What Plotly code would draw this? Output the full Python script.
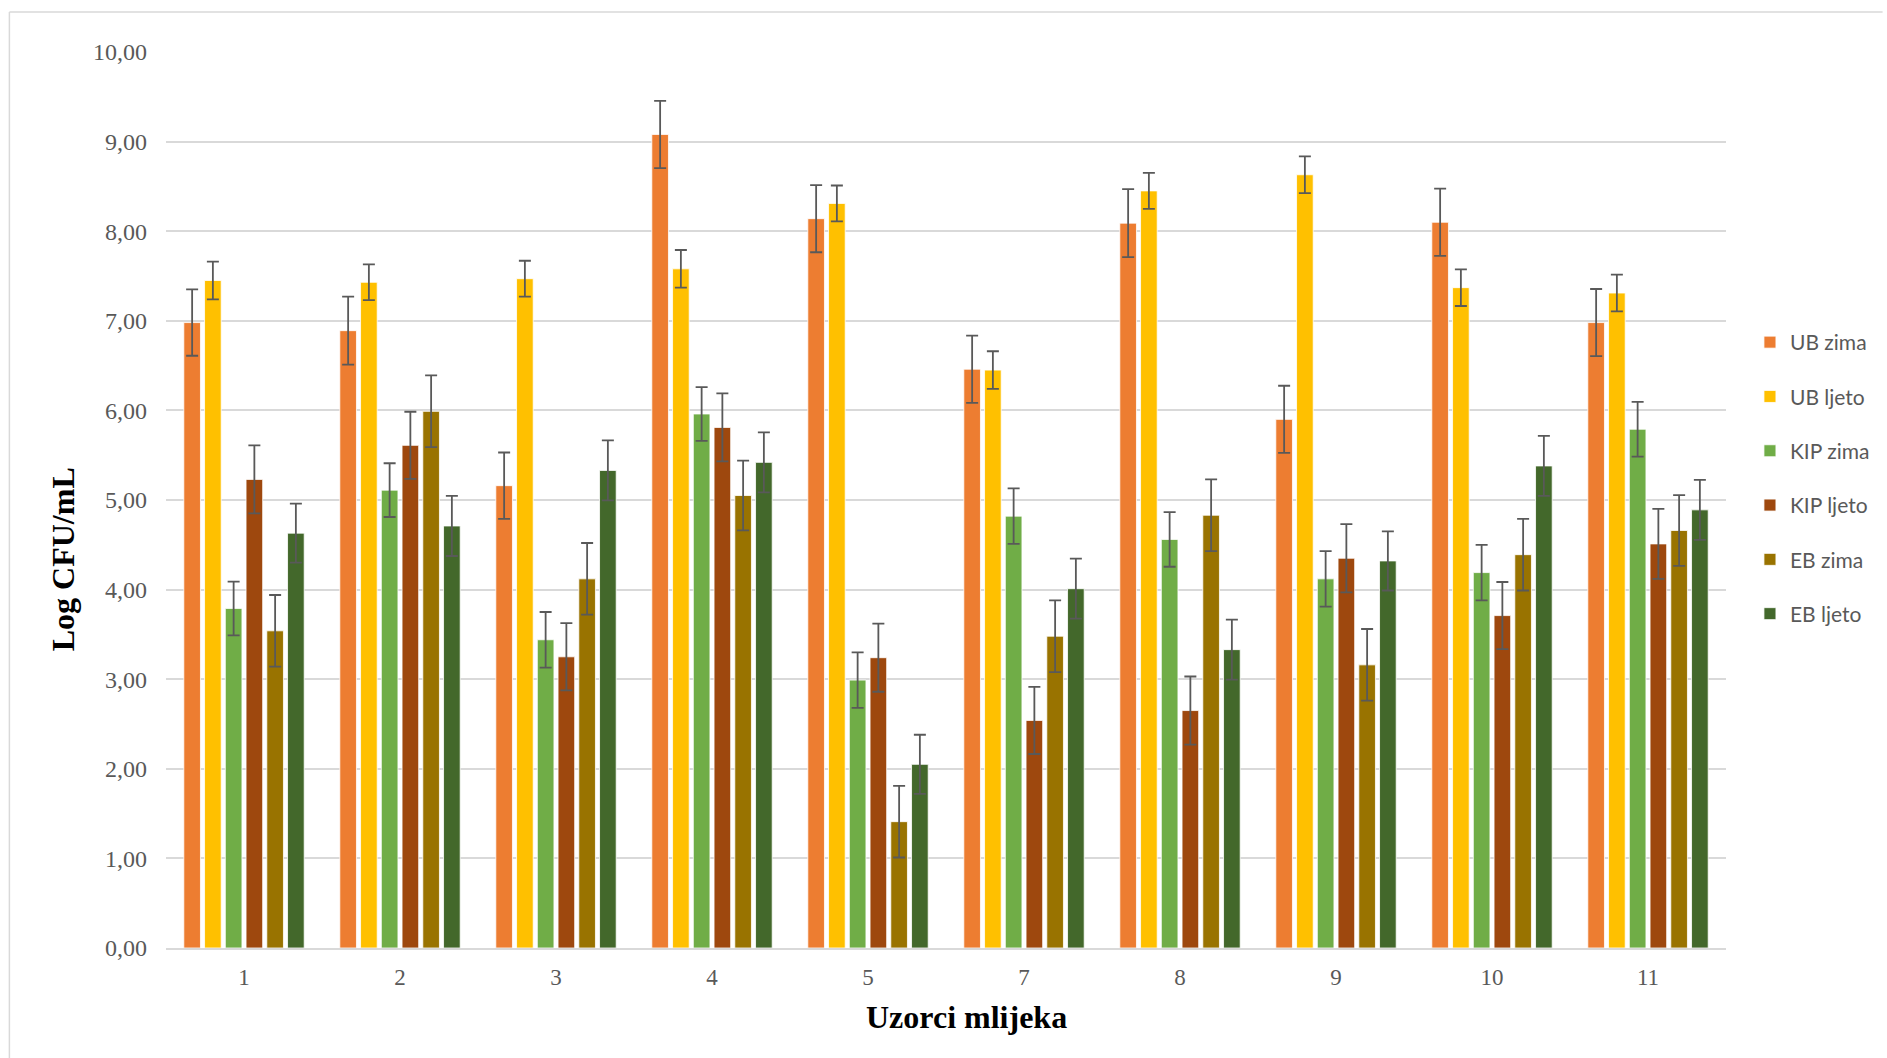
import plotly.graph_objects as go

categories = ["1", "2", "3", "4", "5", "7", "8", "9", "10", "11"]

series_names = ["UB zima", "UB ljeto", "KIP zima", "KIP ljeto", "EB zima", "EB ljeto"]
series_colors = ["#ED7D31", "#FFC000", "#70AD47", "#9E480E", "#997300", "#43682B"]

ub_zima = [6.98, 6.89, 5.16, 9.08, 8.14, 6.46, 8.09, 5.90, 8.10, 6.98]
ub_ljeto = [7.45, 7.43, 7.47, 7.58, 8.31, 6.45, 8.45, 8.63, 7.37, 7.31]
kip_zima = [3.79, 5.11, 3.44, 5.96, 2.99, 4.82, 4.56, 4.12, 4.19, 5.79]
kip_ljeto = [5.23, 5.61, 3.25, 5.81, 3.24, 2.54, 2.65, 4.35, 3.71, 4.51]
eb_zima = [3.54, 5.99, 4.12, 5.05, 1.41, 3.48, 4.83, 3.16, 4.39, 4.66]
eb_ljeto = [4.63, 4.71, 5.33, 5.42, 2.05, 4.01, 3.33, 4.32, 5.38, 4.89]

ub_zima_err = [0.37, 0.38, 0.37, 0.375, 0.375, 0.375, 0.38, 0.375, 0.375, 0.375]
ub_ljeto_err = [0.21, 0.20, 0.20, 0.21, 0.20, 0.21, 0.20, 0.205, 0.205, 0.205]
kip_zima_err = [0.30, 0.30, 0.31, 0.30, 0.31, 0.31, 0.305, 0.31, 0.31, 0.305]
kip_ljeto_err = [0.38, 0.375, 0.375, 0.38, 0.38, 0.375, 0.38, 0.38, 0.375, 0.39]
eb_zima_err = [0.40, 0.40, 0.40, 0.39, 0.40, 0.40, 0.40, 0.40, 0.40, 0.395]
eb_ljeto_err = [0.33, 0.335, 0.335, 0.335, 0.33, 0.335, 0.335, 0.33, 0.335, 0.335]

values = [ub_zima, ub_ljeto, kip_zima, kip_ljeto, eb_zima, eb_ljeto]
errors = [ub_zima_err, ub_ljeto_err, kip_zima_err, kip_ljeto_err, eb_zima_err, eb_ljeto_err]

y_ticks = [0, 1, 2, 3, 4, 5, 6, 7, 8, 9, 10]

fig = go.Figure()
for name, color, vals, errs in zip(series_names, series_colors, values, errors):
    fig.add_trace(go.Bar(
        name=name,
        x=categories,
        y=vals,
        legendgroup=name,
        marker=dict(color=color, line=dict(color="rgba(255,255,255,0.8)", width=1)),
        error_y=dict(type="data", array=errs, visible=True, color="#595959",
                     thickness=1.8, width=6),
    ))

W, H = 1887, 1058
L, R, T, B = 166, 157, 52, 110
pw, ph = W - L - R, H - T - B


def px_x(p):
    return (p - L) / pw


def px_y(p):
    return (H - B - p) / ph


serif = "Liberation Serif, Times New Roman, serif"

fig.update_layout(
    width=W, height=H,
    margin=dict(l=L, r=R, t=T, b=B),
    paper_bgcolor="white", plot_bgcolor="white",
    separators=", ",
    barmode="group",
    bargap=0.202,
    bargroupgap=0.197,
    showlegend=True,
    legend=dict(
        x=px_x(1754), xanchor="left",
        y=px_y(322), yanchor="top",
        traceorder="grouped",
        tracegroupgap=24,
        font=dict(family="Lato, Open Sans, sans-serif", size=21, color="#595959"),
        bgcolor="rgba(0,0,0,0)",
    ),
    xaxis=dict(
        type="category",
        categoryorder="array", categoryarray=categories,
        showgrid=False,
        showline=True, linecolor="#d9d9d9", linewidth=1.5,
        ticks="",
        tickfont=dict(family=serif, size=23, color="#595959"),
        ticklabelstandoff=8,
    ),
    yaxis=dict(
        range=[0, 10],
        tickvals=y_ticks,
        tickformat=".2f",
        showgrid=True, gridcolor="#d9d9d9", gridwidth=1.5,
        zeroline=False,
        showline=False,
        ticks="",
        tickfont=dict(family=serif, size=24, color="#595959"),
        ticklabelstandoff=18,
    ),
    annotations=[
        dict(text="<b>Uzorci mlijeka</b>", xref="paper", yref="paper",
             x=px_x(969), y=px_y(1017), xanchor="center", yanchor="middle",
             showarrow=False,
             font=dict(family=serif, size=32, color="black")),
        dict(text="<b>Log CFU/mL</b>", xref="paper", yref="paper",
             x=px_x(63), y=px_y(559), xanchor="center", yanchor="middle",
             textangle=-90, showarrow=False,
             font=dict(family=serif, size=32, color="black")),
    ],
    shapes=[
        dict(type="line", xref="paper", yref="paper",
             x0=px_x(9), x1=px_x(9), y0=px_y(12), y1=px_y(1058),
             line=dict(color="#d9d9d9", width=1.5)),
        dict(type="line", xref="paper", yref="paper",
             x0=px_x(9), x1=px_x(1887), y0=px_y(12), y1=px_y(12),
             line=dict(color="#d9d9d9", width=1.5)),
    ],
)

fig.write_html("out.html",
               config={"displayModeBar": False},
               post_script="document.body.style.margin='0';document.body.style.overflow='hidden';")
